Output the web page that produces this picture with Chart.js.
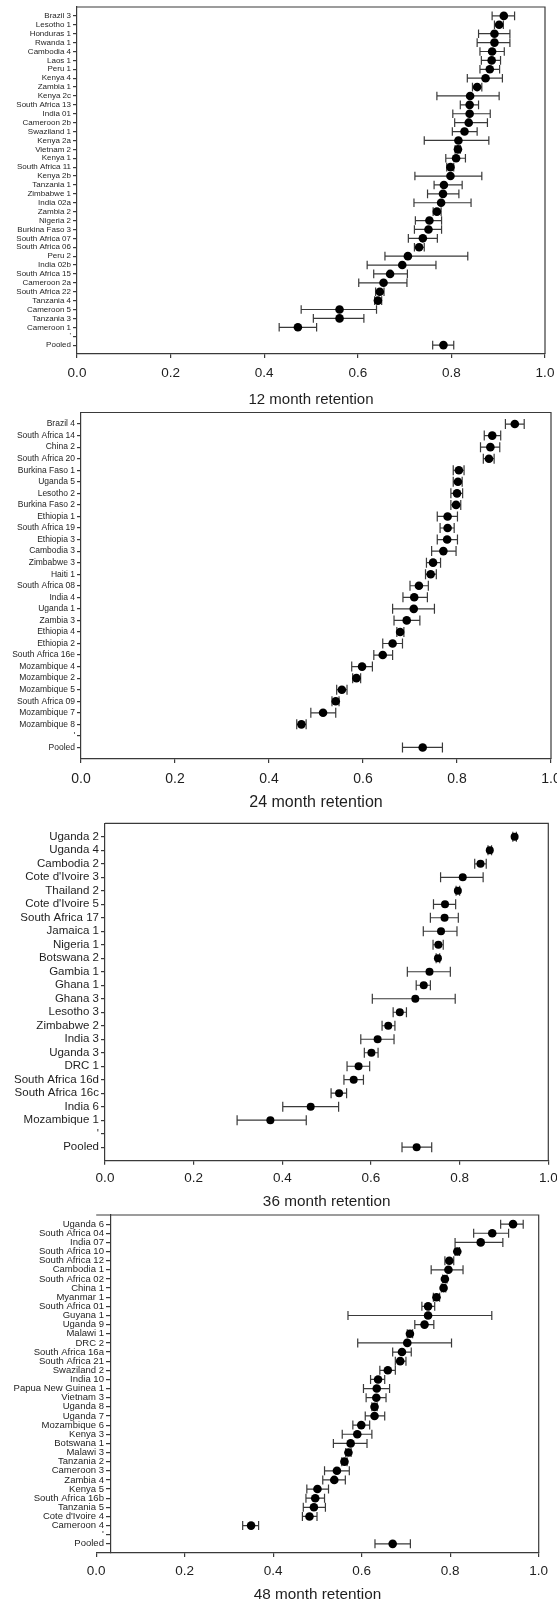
<!DOCTYPE html>
<html>
<head>
<meta charset="utf-8">
<script src="https://cdn.jsdelivr.net/npm/chart.js@4.4.1/dist/chart.umd.min.js"></script>
<style>
  html, body { margin: 0; padding: 0; background: #fff; overflow: hidden; }
  #wrap { position: relative; width: 557px; height: 1604px; overflow: hidden; }
  canvas { position: absolute; left: 0; }
</style>
</head>
<body>
<div id="wrap">
  <canvas id="c12"></canvas>
  <canvas id="c24"></canvas>
  <canvas id="c36"></canvas>
  <canvas id="c48"></canvas>
</div>
<script>
// ---- data ----
const xTicks = [0, 0.2, 0.4, 0.6, 0.8, 1.0];

// 12 month retention
const labels12 = ['Brazil 3','Lesotho 1','Honduras 1','Rwanda 1','Cambodia 4','Laos 1','Peru 1','Kenya 4','Zambia 1','Kenya 2c','South Africa 13','India 01','Cameroon 2b','Swaziland 1','Kenya 2a','Vietnam 2','Kenya 1','South Africa 11','Kenya 2b','Tanzania 1','Zimbabwe 1','India 02a','Zambia 2','Nigeria 2','Burkina Faso 3','South Africa 07','South Africa 06','Peru 2','India 02b','South Africa 15','Cameroon 2a','South Africa 22','Tanzania 4','Cameroon 5','Tanzania 3','Cameroon 1',"'",'Pooled'];
const est12 = [0.912,0.902,0.892,0.892,0.887,0.886,0.882,0.873,0.855,0.840,0.839,0.839,0.837,0.828,0.815,0.814,0.810,0.798,0.798,0.784,0.782,0.778,0.769,0.753,0.751,0.739,0.731,0.707,0.695,0.669,0.655,0.647,0.643,0.561,0.561,0.472,null,0.783];
const lo12  = [0.887,0.892,0.858,0.855,0.861,0.864,0.861,0.834,0.845,0.769,0.819,0.803,0.807,0.802,0.742,0.808,0.788,0.790,0.722,0.763,0.749,0.720,0.761,0.723,0.721,0.708,0.721,0.658,0.620,0.634,0.602,0.638,0.636,0.479,0.505,0.432,null,0.760];
const hi12  = [0.935,0.911,0.925,0.925,0.913,0.905,0.903,0.909,0.865,0.902,0.858,0.883,0.877,0.855,0.880,0.819,0.830,0.805,0.865,0.823,0.816,0.842,0.778,0.779,0.779,0.770,0.742,0.835,0.767,0.706,0.705,0.656,0.651,0.640,0.613,0.512,null,0.805];

// 24 month retention
const labels24 = ['Brazil 4','South Africa 14','China 2','South Africa 20','Burkina Faso 1','Uganda 5','Lesotho 2','Burkina Faso 2','Ethiopia 1','South Africa 19','Ethiopia 3','Cambodia 3','Zimbabwe 3','Haiti 1','South Africa 08','India 4','Uganda 1','Zambia 3','Ethiopia 4','Ethiopia 2','South Africa 16e','Mozambique 4','Mozambique 2','Mozambique 5','South Africa 09','Mozambique 7','Mozambique 8',"'",'Pooled'];
const est24 = [0.923,0.875,0.871,0.868,0.804,0.802,0.800,0.798,0.780,0.780,0.779,0.771,0.749,0.744,0.719,0.709,0.708,0.693,0.679,0.663,0.642,0.598,0.586,0.555,0.542,0.515,0.469,null,0.727];
const lo24  = [0.903,0.858,0.850,0.856,0.792,0.792,0.787,0.787,0.758,0.764,0.758,0.746,0.735,0.733,0.700,0.685,0.663,0.666,0.672,0.642,0.623,0.576,0.578,0.544,0.534,0.489,0.459,null,0.684];
const hi24  = [0.943,0.893,0.891,0.879,0.815,0.811,0.812,0.808,0.801,0.794,0.801,0.798,0.765,0.756,0.739,0.737,0.752,0.721,0.687,0.684,0.663,0.620,0.595,0.566,0.549,0.542,0.479,null,0.769];

// 36 month retention
const labels36 = ['Uganda 2','Uganda 4','Cambodia 2',"Cote d'Ivoire 3",'Thailand 2',"Cote d'Ivoire 5",'South Africa 17','Jamaica 1','Nigeria 1','Botswana 2','Gambia 1','Ghana 1','Ghana 3','Lesotho 3','Zimbabwe 2','India 3','Uganda 3','DRC 1','South Africa 16d','South Africa 16c','India 6','Mozambique 1',"'",'Pooled'];
const est36 = [0.924,0.868,0.847,0.807,0.796,0.767,0.766,0.758,0.752,0.751,0.732,0.719,0.700,0.665,0.639,0.615,0.601,0.572,0.561,0.528,0.464,0.373,null,0.703];
const lo36  = [0.920,0.864,0.834,0.757,0.792,0.741,0.734,0.718,0.740,0.747,0.682,0.702,0.603,0.650,0.625,0.577,0.585,0.546,0.539,0.510,0.401,0.298,null,0.670];
const hi36  = [0.928,0.872,0.860,0.853,0.800,0.791,0.797,0.794,0.763,0.755,0.779,0.734,0.790,0.680,0.654,0.652,0.616,0.597,0.583,0.545,0.527,0.454,null,0.737];

// 48 month retention
const labels48 = ['Uganda 6','South Africa 04','India 07','South Africa 10','South Africa 12','Cambodia 1','South Africa 02','China 1','Myanmar 1','South Africa 01','Guyana 1','Uganda 9','Malawi 1','DRC 2','South Africa 16a','South Africa 21','Swaziland 2','India 10','Papua New Guinea 1','Vietnam 3','Uganda 8','Uganda 7','Mozambique 6','Kenya 3','Botswana 1','Malawi 3','Tanzania 2','Cameroon 3','Zambia 4','Kenya 5','South Africa 16b','Tanzania 5',"Cote d'Ivoire 4",'Cameroon 4',"'",'Pooled'];
const est48 = [0.942,0.895,0.869,0.816,0.798,0.796,0.788,0.785,0.769,0.750,0.750,0.742,0.709,0.703,0.691,0.687,0.659,0.637,0.634,0.633,0.629,0.629,0.599,0.590,0.575,0.570,0.561,0.544,0.538,0.500,0.495,0.492,0.482,0.350,null,0.670];
const lo48  = [0.914,0.853,0.811,0.811,0.788,0.757,0.783,0.780,0.762,0.736,0.569,0.720,0.703,0.591,0.670,0.676,0.641,0.620,0.604,0.610,0.623,0.608,0.580,0.556,0.536,0.564,0.555,0.516,0.512,0.476,0.474,0.468,0.466,0.331,null,0.630];
const hi48  = [0.965,0.932,0.919,0.821,0.808,0.829,0.793,0.790,0.776,0.765,0.894,0.763,0.715,0.803,0.712,0.700,0.676,0.652,0.663,0.655,0.635,0.652,0.618,0.623,0.612,0.576,0.567,0.572,0.563,0.525,0.516,0.518,0.499,0.367,null,0.710];

// ---- styling ----
const LINE = '#3a3a3a';
const TXT = '#1e1e1e';
Chart.defaults.font.family = "'Liberation Sans', Arial, sans-serif";

// horizontal CI bars with end caps, drawn under the points
const errorBars = {
  id: 'errorBars',
  beforeDatasetsDraw(chart, args, opts) {
    const { ctx, scales: { x, y } } = chart;
    ctx.save();
    ctx.strokeStyle = LINE;
    ctx.lineWidth = 1.2;
    chart.data.datasets[0].data.forEach(d => {
      const py = y.getPixelForValue(d.y);
      const xl = x.getPixelForValue(d.lo);
      const xr = x.getPixelForValue(d.hi);
      ctx.beginPath();
      ctx.moveTo(xl, py); ctx.lineTo(xr, py);
      ctx.moveTo(xl, py - opts.cap); ctx.lineTo(xl, py + opts.cap);
      ctx.moveTo(xr, py - opts.cap); ctx.lineTo(xr, py + opts.cap);
      ctx.stroke();
    });
    ctx.restore();
  }
};

// top + right edges of the plot box
const frame = {
  id: 'frame',
  beforeDatasetsDraw(chart) {
    const { ctx, chartArea: c } = chart;
    ctx.save();
    ctx.strokeStyle = LINE;
    ctx.lineWidth = 1.2;
    ctx.beginPath();
    ctx.moveTo(c.left, c.top);
    ctx.lineTo(c.right, c.top);
    ctx.lineTo(c.right, c.bottom);
    ctx.stroke();
    ctx.restore();
  }
};

function makePanel(id, labels, est, lo, hi, p) {
  const cv = document.getElementById(id);
  cv.width = 557;
  cv.height = p.height;
  cv.style.top = p.top + 'px';

  const rows = labels
    .map((lab, i) => ({ x: est[i], y: i, lo: lo[i], hi: hi[i] }))
    .filter(d => d.x != null);

  // an axis pinned to an x value gets no tick/padding gap in Chart.js,
  // so pad its labels with an en space + thin space instead
  const gap = p.yAt != null ? '\u2002\u2009' : '';

  return new Chart(cv, {
    type: 'scatter',
    data: {
      datasets: [{
        data: rows,
        pointRadius: p.r,
        pointHoverRadius: p.r,
        backgroundColor: '#000',
        borderColor: '#000',
        borderWidth: 0,
      }]
    },
    options: {
      responsive: false,
      animation: false,
      devicePixelRatio: 1,
      layout: {
        padding: { left: p.yAt != null ? p.x0 : 0, right: 557 - p.x1, top: p.boxTop - p.top, bottom: 0 }
      },
      plugins: {
        legend: { display: false },
        tooltip: { enabled: false },
        errorBars: { cap: p.cap },
      },
      scales: {
        x: {
          type: 'linear',
          min: 0,
          max: 1,
          afterBuildTicks: s => { s.ticks = xTicks.map(v => ({ value: v })); },
          afterFit: s => {
            s.height = p.top + p.height - p.axisY;
            s.paddingLeft = 0;
            s.paddingRight = 0;
          },
          grid: { drawOnChartArea: false, tickLength: 4, color: LINE, lineWidth: 1.2 },
          border: { color: LINE, width: 1.2 },
          ticks: {
            padding: p.tickPad,
            color: TXT,
            maxRotation: 0,
            font: { size: p.tickFont },
            callback: v => v.toFixed(1)
          },
          title: {
            display: true,
            text: p.title,
            color: TXT,
            font: { size: p.titleFont },
            padding: { top: 0, bottom: 0 }
          }
        },
        y: {
          type: 'linear',
          position: p.yAt != null ? { x: p.yAt } : 'left',
          reverse: true,
          min: -1,
          max: labels.length,
          afterBuildTicks: s => { s.ticks = labels.map((_, i) => ({ value: i })); },
          afterFit: s => {
            if (p.yAt == null) s.width = p.x0;
            s.paddingTop = 0;
            s.paddingBottom = 0;
          },
          grid: { drawOnChartArea: false, tickLength: 4, color: LINE, lineWidth: 1.2 },
          border: { color: LINE, width: 1.2 },
          ticks: {
            autoSkip: false,
            padding: 2,
            color: TXT,
            font: { size: p.labelFont, lineHeight: 1 },
            callback: v => labels[v] + gap
          }
        }
      }
    },
    plugins: [errorBars, frame]
  });
}

makePanel('c12', labels12, est12, lo12, hi12, {
  title: '12 month retention', top: 1, height: 408, boxTop: 7, axisY: 354,
  x0: 77, x1: 545, r: 4.3, cap: 4.3, labelFont: 8, tickFont: 13.5, titleFont: 15, tickPad: 7
});
makePanel('c24', labels24, est24, lo24, hi24, {
  title: '24 month retention', top: 406, height: 406, boxTop: 412.5, axisY: 759,
  x0: 81, x1: 551, r: 4.3, cap: 5, labelFont: 8.5, tickFont: 14, titleFont: 16, tickPad: 8
});
makePanel('c36', labels36, est36, lo36, hi36, {
  title: '36 month retention', top: 817, height: 394, boxTop: 823.3, axisY: 1160.7,
  x0: 105, x1: 548.3, r: 4, cap: 5, labelFont: 11.5, tickFont: 13.5, titleFont: 15.3, tickPad: 5
});
makePanel('c48', labels48, est48, lo48, hi48, {
  title: '48 month retention', top: 1209, height: 395, boxTop: 1215, axisY: 1553,
  x0: 96.2, x1: 538.7, yAt: 0.0325, r: 4.3, cap: 4.5, labelFont: 9.5, tickFont: 13.5, titleFont: 15.3, tickPad: 6.6
});
</script>
</body>
</html>
